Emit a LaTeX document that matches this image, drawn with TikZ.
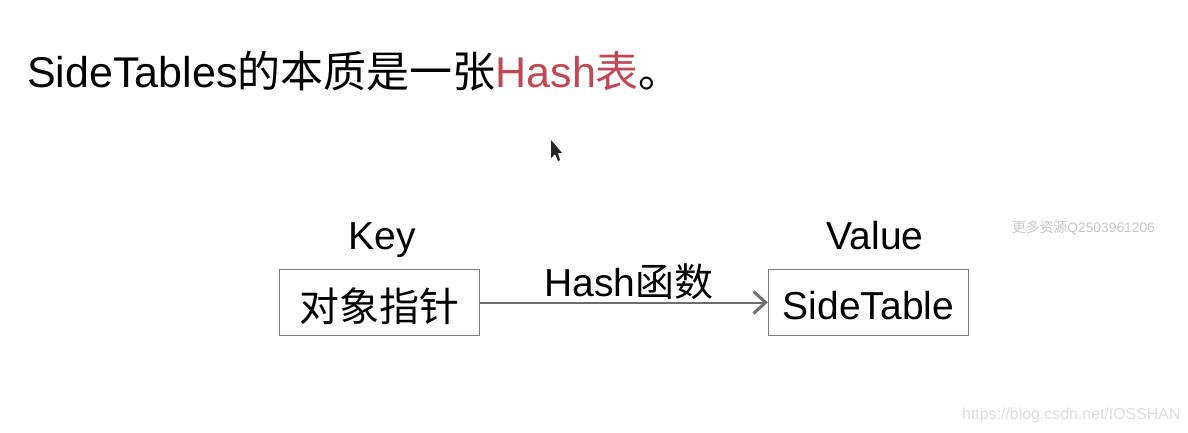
\documentclass[tikz,border=0pt]{standalone}
\usepackage{fontspec}
\usetikzlibrary{arrows.meta}
\setmainfont{Liberation Sans}
\newfontfamily\cjk{Noto Sans CJK SC}
\definecolor{hashred}{RGB}{192,72,82}
\definecolor{boxgray}{RGB}{125,125,125}
\definecolor{arrowgray}{RGB}{110,110,110}
\begin{document}
\begin{tikzpicture}[x=1pt,y=1pt]
    \tikzset{
        label text/.style={anchor=base,inner sep=0pt,font=\fontsize{39}{39}\selectfont},
        table box/.style={draw=boxgray,line width=1.5pt,minimum width=200pt,minimum height=66pt,inner sep=0pt},
        mark text/.style={anchor=base west,inner sep=0pt},}
    \useasboundingbox (0,0) rectangle (1188,432);
    \node [mark text,font=\fontsize{43}{43}\selectfont] (title) at (27,344)
        {SideTables{\cjk 的本质是一张}\textcolor{hashred}{Hash{\cjk 表}}{\cjk 。}};
    % cursor
    \fill [black!85] (551,292) -- (551,274) -- (555,278) -- (558,271) -- (560,272) -- (558,279) -- (562,279) -- cycle;
    \node [table box] (key box) at (379.5,129.5) {};
    \node [table box] (value box) at (868.5,129.5) {};
    \node [label text] (key text) at (382,183) {Key};
    \node [label text] (value text) at (875,183) {Value};
    \node [label text,font=\fontsize{40}{40}\selectfont] (pointer text) at (379,111) {\cjk 对象指针};
    \node [label text] (table text) at (868.5,113) {SideTable};
    \node [label text] (hash text) at (629,136) {Hash{\cjk 函数}};
    \draw [arrowgray,line width=2pt,-{Straight Barb[length=12pt,width=22pt,line width=3pt]}] (key box.east) -- (value box.west);
    % watermarks
    \node [mark text,text=black!22,font=\fontsize{13.8}{14}\selectfont] (water top) at (1012,200) {{\cjk 更多资源}Q2503961206};
    \node [mark text,text=black!13,font=\fontsize{15.9}{17}\selectfont] (water bottom) at (962,13) {https://blog.csdn.net/IOSSHAN};
\end{tikzpicture}
\end{document}
